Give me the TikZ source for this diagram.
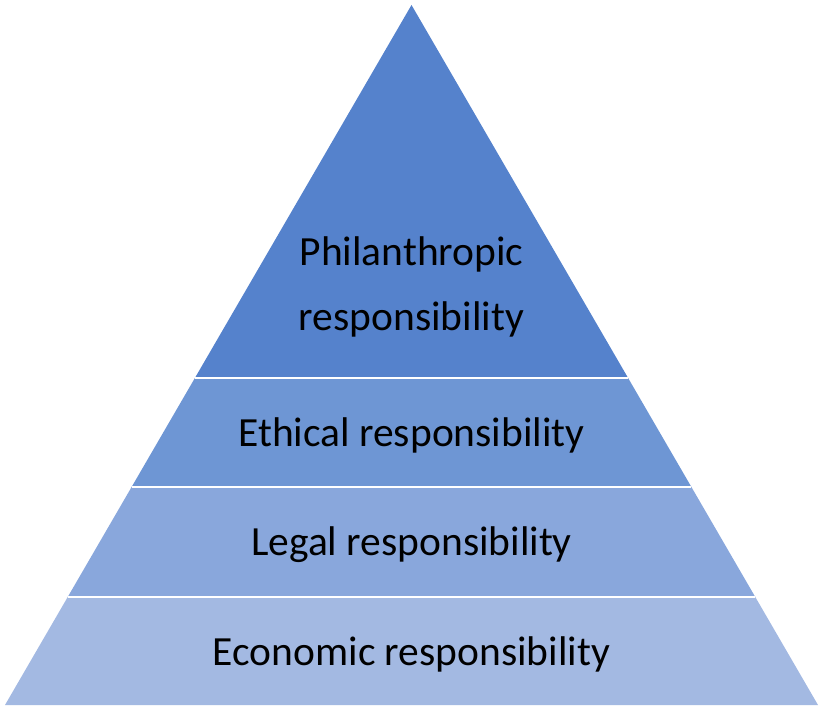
\documentclass[tikz,border=0pt]{standalone}
\usepackage{fontspec}
\setmainfont{Carlito}
\usetikzlibrary{calc}
\definecolor{layerA}{RGB}{85,130,204}
\definecolor{layerB}{RGB}{110,150,212}
\definecolor{layerC}{RGB}{137,167,220}
\definecolor{layerD}{RGB}{163,185,226}
\begin{document}
\begin{tikzpicture}[x=1pt,y=-1pt]
    \tikzstyle{every node}=[font=\fontsize{41.5}{65}\selectfont,text=black]
    \tikzstyle{gap}=[white,line width=2.5pt]
    \useasboundingbox (0,0) rectangle (824,708);

    % corners of the pyramid
    \coordinate (apex) at (411.5,5);
    \coordinate (bl) at (5,705);
    \coordinate (br) at (818,705);

    % points on the sides where the layers meet
    \coordinate (l1) at ($(apex)!0.5329!(bl)$);
    \coordinate (r1) at ($(apex)!0.5329!(br)$);
    \coordinate (l2) at ($(apex)!0.6886!(bl)$);
    \coordinate (r2) at ($(apex)!0.6886!(br)$);
    \coordinate (l3) at ($(apex)!0.8457!(bl)$);
    \coordinate (r3) at ($(apex)!0.8457!(br)$);

    % the four layers
    \fill[layerA] (apex) -- (r1) -- (l1) -- cycle;
    \fill[layerB] (l1) -- (r1) -- (r2) -- (l2) -- cycle;
    \fill[layerC] (l2) -- (r2) -- (r3) -- (l3) -- cycle;
    \fill[layerD] (l3) -- (r3) -- (br) -- (bl) -- cycle;

    % white gaps between layers
    \draw[gap] (l1) -- (r1);
    \draw[gap] (l2) -- (r2);
    \draw[gap] (l3) -- (r3);

    % labels for layers
    \node[align=center] (philanthropic) at (411.5,287) {Philanthropic\\responsibility};
    \node (ethical) at (411.5,435) {Ethical responsibility};
    \node (legal) at (411.5,544.5) {Legal responsibility};
    \node (economic) at (411.5,654) {Economic responsibility};
\end{tikzpicture}
\end{document}
